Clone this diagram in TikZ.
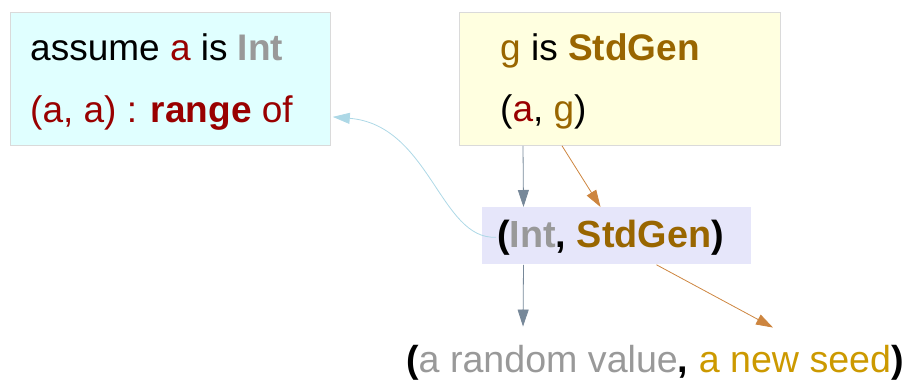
\documentclass[tikz,border=0pt]{standalone}
\usepackage{fontspec}
\setmainfont{Liberation Sans}
\usetikzlibrary{arrows.meta}
\definecolor{cyanbox}{HTML}{E0FFFF}
\definecolor{yellowbox}{HTML}{FFFFE0}
\definecolor{lavbox}{HTML}{E6E6FA}
\definecolor{boxline}{HTML}{DADADA}
\definecolor{valred}{HTML}{990000}
\definecolor{typegray}{HTML}{999999}
\definecolor{genbrown}{HTML}{996600}
\definecolor{seedgold}{HTML}{CC9900}
\definecolor{arrgray}{HTML}{778899}
\definecolor{arrorange}{HTML}{CD853F}
\definecolor{arrblue}{HTML}{ADD8E6}
\tikzset{
  box/.style={draw=boxline, line width=0.8pt, anchor=north west, inner sep=0pt},
  txt/.style={anchor=base west, inner sep=0pt, font=\fontsize{37}{44}\selectfont},
  arr/.style={line width=0.8pt, -{Triangle[length=17pt,width=11pt]}}
}

\begin{document}
\begin{tikzpicture}[x=1pt, y=-1pt]
  \useasboundingbox (0,0) rectangle (904,382);
  \node[box, fill=cyanbox, minimum width=320pt, minimum height=133pt] (assume) at (10,12) {};
  \node[box, fill=yellowbox, minimum width=321pt, minimum height=133pt] (gen) at (459,12) {};
  \node[box, fill=lavbox, draw=none, minimum width=269pt, minimum height=57pt] (pair) at (481.5,207) {};

  \node[txt] (assume1) at (30,61) {assume \textcolor{valred}{a} is \textcolor{typegray}{\bfseries Int}};
  \node[txt, text=valred] (assume2) at (30,123) {(a, a) : \textbf{range} of};
  \node[txt] (gen1) at (500,61) {\textcolor{genbrown}{g} is \textcolor{genbrown}{\bfseries StdGen}};
  \node[txt] (gen2) at (500,122) {(\textcolor{valred}{a}, \textcolor{genbrown}{g})};
  \node[txt, font=\fontsize{37.8}{44}\selectfont\bfseries] (pairtxt) at (497,247) {(\textcolor{typegray}{Int}, \textcolor{genbrown}{StdGen})};
  \node[txt, font=\fontsize{37.6}{44}\selectfont] (result) at (406,372) {\textbf{(}\textcolor{typegray}{a random value}\textbf{,} \textcolor{seedgold}{a new seed}\textbf{)}};

  \draw[arr, arrgray] ([xshift=64pt]gen.south west) -- ([xshift=42pt]pair.north west);
  \draw[arr, arrorange] ([xshift=103pt]gen.south west) -- ([xshift=119pt]pair.north west);
  \draw[arr, arrblue] ([xshift=-1pt]pairtxt.west) .. controls (440,240) and (430,125) .. ([yshift=-38pt, xshift=2pt]assume.east);
  \draw[arr, arrgray] ([xshift=42pt]pair.south west) -- ([xshift=117pt, yshift=18pt]result.north west);
  \draw[arr, arrorange] ([xshift=175pt]pair.south west) -- ([xshift=367pt, yshift=17pt]result.north west);
\end{tikzpicture}
\end{document}
